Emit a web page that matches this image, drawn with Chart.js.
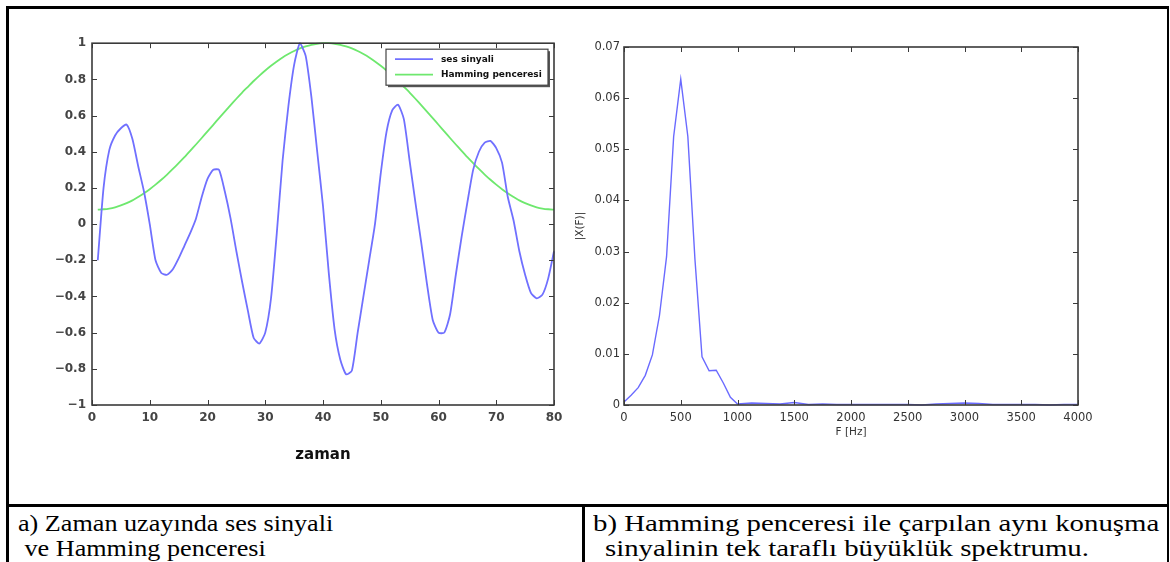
<!DOCTYPE html>
<html>
<head>
  <meta charset="utf-8">
  <script src="https://cdn.jsdelivr.net/npm/chart.js@4/dist/chart.umd.min.js"></script>
  <style>
    body { margin: 0; background: #fff; width: 1170px; height: 562px; overflow: hidden; position: relative; }
    .cizgi { position: absolute; background: #000; }
    canvas { position: absolute; }
    .yazi { position: absolute; font-family: 'Liberation Serif', 'Times New Roman', serif; font-size: 24px; line-height: 25px; color: #000; white-space: nowrap; transform-origin: 0 0; }
  </style>
</head>
<body>
  <!-- tablo cizgileri -->
  <div class="cizgi" style="left:6px; top:6px; width:1163px; height:2.5px;"></div>
  <div class="cizgi" style="left:6px; top:6px; width:2.5px; height:560px;"></div>
  <div class="cizgi" style="left:1166.5px; top:6px; width:2.5px; height:560px;"></div>
  <div class="cizgi" style="left:6px; top:504px; width:1163px; height:2.5px;"></div>
  <div class="cizgi" style="left:582px; top:504px; width:2.5px; height:60px;"></div>

  <canvas id="solGrafik" width="530" height="440" style="left:40px; top:30px;"></canvas>
  <canvas id="sagGrafik" width="530" height="440" style="left:570px; top:30px;"></canvas>

  <div class="yazi" style="left:18px; top:511px; transform:scaleX(1.09);">a) Zaman uzayında ses sinyali<br><span style="padding-left:6px;">ve Hamming penceresi</span></div>
  <div class="yazi" style="left:593px; top:511px; transform:scaleX(1.2);">b) Hamming penceresi ile çarpılan aynı konuşma<br><span style="padding-left:10px;">sinyalinin tek taraflı büyüklük spektrumu.</span></div>

  <script type="text/javascript">
    // zaman ekseni (ornek no)
    var zaman = [1, 2, 3, 4, 5, 6, 7, 8, 9, 10, 11, 12, 13, 14, 15, 16, 17, 18, 19, 20,
      21, 22, 23, 24, 25, 26, 27, 28, 29, 30, 31, 32, 33, 34, 35, 36, 37, 38, 39, 40,
      41, 42, 43, 44, 45, 46, 47, 48, 49, 50, 51, 52, 53, 54, 55, 56, 57, 58, 59, 60,
      61, 62, 63, 64, 65, 66, 67, 68, 69, 70, 71, 72, 73, 74, 75, 76, 77, 78, 79, 80];

    var sesSinyali = [-0.20, 0.20, 0.41, 0.49, 0.53, 0.55, 0.47, 0.32, 0.18, 0.00,
      -0.20, -0.27, -0.28, -0.25, -0.19, -0.12, -0.05, 0.03, 0.15, 0.25,
      0.30, 0.30, 0.18, 0.03, -0.15, -0.32, -0.48, -0.63, -0.66, -0.60,
      -0.41, -0.05, 0.35, 0.65, 0.88, 1.00, 0.93, 0.70, 0.40, 0.10,
      -0.27, -0.58, -0.75, -0.83, -0.81, -0.60, -0.40, -0.20, 0.00, 0.28,
      0.51, 0.63, 0.66, 0.58, 0.35, 0.12, -0.10, -0.33, -0.53, -0.60,
      -0.60, -0.50, -0.28, -0.07, 0.12, 0.30, 0.40, 0.45, 0.46, 0.42,
      0.34, 0.15, 0.02, -0.15, -0.28, -0.38, -0.41, -0.39, -0.30, -0.15];

    var hammingPenceresi = [0.080, 0.082, 0.086, 0.093, 0.103, 0.116, 0.131, 0.150, 0.170, 0.193,
      0.218, 0.245, 0.274, 0.305, 0.337, 0.370, 0.405, 0.440, 0.476, 0.513,
      0.549, 0.586, 0.622, 0.658, 0.693, 0.727, 0.759, 0.791, 0.821, 0.849,
      0.875, 0.899, 0.921, 0.940, 0.957, 0.971, 0.982, 0.991, 0.997, 1.000,
      1.000, 0.997, 0.991, 0.982, 0.971, 0.957, 0.940, 0.921, 0.899, 0.875,
      0.849, 0.821, 0.791, 0.759, 0.727, 0.693, 0.658, 0.622, 0.586, 0.549,
      0.513, 0.476, 0.440, 0.405, 0.370, 0.337, 0.305, 0.274, 0.245, 0.218,
      0.193, 0.170, 0.150, 0.131, 0.116, 0.103, 0.093, 0.086, 0.082, 0.080];

    // spektrum
    var frekans = [0, 62.5, 125, 187.5, 250, 312.5, 375, 437.5, 500, 562.5, 625, 687.5, 750, 812.5, 875, 937.5, 1000,
      1125, 1250, 1375, 1500, 1625, 1750, 1875, 2000, 2125, 2250, 2375, 2500, 2625, 2750, 2875,
      3000, 3125, 3250, 3375, 3500, 3625, 3750, 3875, 4000];
    var genlik = [0.0006, 0.0019, 0.0034, 0.0058, 0.0098, 0.0175, 0.0290, 0.0525, 0.0637, 0.0525, 0.0285, 0.0094,
      0.0067, 0.0068, 0.0043, 0.0015, 0.0002,
      0.0004, 0.0003, 0.0002, 0.0005, 0.0001, 0.0002, 0.0001, 0.0001, 0.0001, 0.0001, 0.0001, 0.0001, 0.0000,
      0.0002, 0.0003, 0.0004, 0.0003, 0.0001, 0.0001, 0.0001, 0.0001, 0.0000, 0.0001, 0.0001];

    var solXTikler = [0, 10, 20, 30, 40, 50, 60, 70, 80];
    var solYTikler = [-1, -0.8, -0.6, -0.4, -0.2, 0, 0.2, 0.4, 0.6, 0.8, 1];
    var sagXTikler = [0, 500, 1000, 1500, 2000, 2500, 3000, 3500, 4000];
    var sagYTikler = [0, 0.01, 0.02, 0.03, 0.04, 0.05, 0.06, 0.07];

    Chart.defaults.font.family = "'DejaVu Sans', Arial, sans-serif";
    Chart.defaults.color = '#333';

    function noktalar(xs, ys) {
      return xs.map(function (v, i) { return { x: v, y: ys[i] }; });
    }

    function etiket(v) {
      var s = String(parseFloat(v.toFixed(2)));
      return s.replace('-', '\u2212');
    }

    // matlab tarzi cerceve + ice dogru tikler
    var kutuCiz = {
      id: 'kutuCiz',
      afterDatasetsDraw: function (chart) {
        var ctx = chart.ctx, a = chart.chartArea;
        var x = chart.scales.x, y = chart.scales.y;
        ctx.save();
        ctx.strokeStyle = '#3a3a3a';
        ctx.lineWidth = 1;
        ctx.beginPath();
        x.ticks.forEach(function (t) {
          var px = Math.round(x.getPixelForValue(t.value)) + 0.5;
          ctx.moveTo(px, a.bottom); ctx.lineTo(px, a.bottom - 5);
          ctx.moveTo(px, a.top); ctx.lineTo(px, a.top + 5);
        });
        y.ticks.forEach(function (t) {
          var py = Math.round(y.getPixelForValue(t.value)) + 0.5;
          ctx.moveTo(a.left, py); ctx.lineTo(a.left + 5, py);
          ctx.moveTo(a.right, py); ctx.lineTo(a.right - 5, py);
        });
        ctx.stroke();
        ctx.lineWidth = 1.6;
        ctx.strokeRect(a.left, a.top, a.right - a.left, a.bottom - a.top);
        ctx.restore();
      }
    };

    // kutulu lejant (sag ust)
    var kutuLejant = {
      id: 'kutuLejant',
      afterDraw: function (chart) {
        var opt = chart.options.plugins.kutuLejant;
        if (!opt || !opt.goster) return;
        var ctx = chart.ctx, a = chart.chartArea;
        var w = 162, h = 36;
        var lx = a.right - 6 - w, ly = a.top + 6;
        ctx.save();
        ctx.fillStyle = '#555';
        ctx.fillRect(lx + 2, ly + 2, w, h);
        ctx.fillStyle = '#fff';
        ctx.fillRect(lx, ly, w, h);
        ctx.strokeStyle = '#444';
        ctx.lineWidth = 1.2;
        ctx.strokeRect(lx, ly, w, h);
        ctx.font = "bold 9px 'DejaVu Sans', Arial, sans-serif";
        ctx.textBaseline = 'middle';
        chart.data.datasets.forEach(function (ds, i) {
          var yy = ly + 10 + i * 15.5;
          ctx.strokeStyle = ds.borderColor;
          ctx.lineWidth = 1.8;
          ctx.beginPath();
          ctx.moveTo(lx + 9, yy); ctx.lineTo(lx + 47, yy);
          ctx.stroke();
          ctx.fillStyle = '#111';
          ctx.fillText(ds.label, lx + 55, yy);
        });
        ctx.restore();
      }
    };

    var solCtx = document.getElementById('solGrafik').getContext('2d');
    var solGrafik = new Chart(solCtx, {
      type: 'line',
      data: {
        datasets: [{
          label: 'ses sinyali',
          data: noktalar(zaman, sesSinyali),
          borderColor: '#7070ff',
          borderWidth: 1.8,
          pointRadius: 0,
          tension: 0.2,
          clip: 4
        }, {
          label: 'Hamming penceresi',
          data: noktalar(zaman, hammingPenceresi),
          borderColor: '#6ee86e',
          borderWidth: 1.8,
          pointRadius: 0,
          tension: 0.2,
          clip: 4
        }]
      },
      options: {
        responsive: false,
        animation: false,
        layout: { padding: { top: 11, right: 16, left: 0, bottom: 0 } },
        plugins: {
          legend: { display: false },
          tooltip: { enabled: false },
          kutuLejant: { goster: true }
        },
        scales: {
          x: {
            type: 'linear', min: 0, max: 80,
            afterBuildTicks: function (s) { s.ticks = solXTikler.map(function (v) { return { value: v }; }); },
            afterFit: function (s) { s.height = 65; },
            grid: { display: false, drawTicks: false },
            border: { display: false },
            ticks: { padding: 6, font: { size: 12, weight: 'bold' }, color: '#444', callback: etiket, maxRotation: 0 },
            title: { display: true, text: 'zaman', color: '#111', font: { size: 15, weight: 'bold' }, padding: { top: 0, bottom: 6 } }
          },
          y: {
            min: -1, max: 1,
            afterBuildTicks: function (s) { s.ticks = solYTikler.map(function (v) { return { value: v }; }); },
            afterFit: function (s) { s.width = 52; },
            grid: { display: false, drawTicks: false },
            border: { display: false },
            ticks: { padding: 6, font: { size: 12, weight: 'bold' }, color: '#444', callback: etiket }
          }
        }
      },
      plugins: [kutuCiz, kutuLejant]
    });

    var sagCtx = document.getElementById('sagGrafik').getContext('2d');
    var sagGrafik = new Chart(sagCtx, {
      type: 'line',
      data: {
        datasets: [{
          label: '|X(F)|',
          data: noktalar(frekans, genlik),
          borderColor: '#6a6aff',
          borderWidth: 1.4,
          pointRadius: 0,
          tension: 0,
          clip: 4
        }]
      },
      options: {
        responsive: false,
        animation: false,
        layout: { padding: { top: 17, right: 22, left: 0, bottom: 0 } },
        plugins: {
          legend: { display: false },
          tooltip: { enabled: false }
        },
        scales: {
          x: {
            type: 'linear', min: 0, max: 4000,
            afterBuildTicks: function (s) { s.ticks = sagXTikler.map(function (v) { return { value: v }; }); },
            afterFit: function (s) { s.height = 65; },
            grid: { display: false, drawTicks: false },
            border: { display: false },
            ticks: { padding: 6, font: { size: 11.5 }, color: '#333', callback: etiket, maxRotation: 0 },
            title: { display: true, text: 'F [Hz]', color: '#333', font: { size: 10.5 }, padding: { top: 0, bottom: 31 } }
          },
          y: {
            min: 0, max: 0.07,
            afterBuildTicks: function (s) { s.ticks = sagYTikler.map(function (v) { return { value: v }; }); },
            afterFit: function (s) { s.width = 54; },
            grid: { display: false, drawTicks: false },
            border: { display: false },
            ticks: { padding: 4, font: { size: 11.5 }, color: '#333', callback: etiket },
            title: { display: true, text: '|X(F)|', color: '#333', font: { size: 10.5 }, padding: { top: 4, bottom: 0 } }
          }
        }
      },
      plugins: [kutuCiz]
    });
  </script>
</body>
</html>
